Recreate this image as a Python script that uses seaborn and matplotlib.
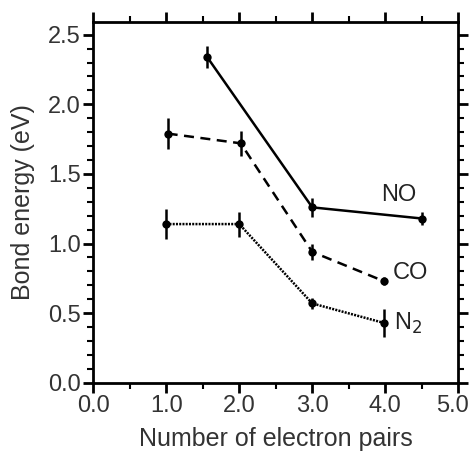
import matplotlib
matplotlib.use("Agg")
import matplotlib.pyplot as plt
import matplotlib.transforms as mtransforms
from matplotlib.ticker import MultipleLocator
import seaborn as sns
import pandas as pd

# data
no_x = [1.56, 3.0, 4.5]
no_y = [2.34, 1.26, 1.18]
no_err = [0.08, 0.07, 0.05]

co_x = [1.02, 2.02, 3.0, 3.98]
co_y = [1.79, 1.72, 0.94, 0.73]
co_err = [0.11, 0.09, 0.06, 0.03]

n2_x = [1.0, 2.0, 3.0, 3.98]
n2_y = [1.14, 1.14, 0.57, 0.43]
n2_err = [0.11, 0.09, 0.04, 0.10]

x_ticks = [0.0, 1.0, 2.0, 3.0, 4.0, 5.0]

series = [
    ("NO", no_x, no_y, no_err, "-"),
    ("CO", co_x, co_y, co_err, (0, (4, 2.6))),
    ("N$_2$", n2_x, n2_y, n2_err, (0, (0.8, 0.5))),
]

sns.set_style("ticks")
plt.rcParams["font.family"] = ["Liberation Sans", "DejaVu Sans"]

fig = plt.figure(figsize=(4.73, 4.53), dpi=100)
ax = fig.add_axes([0.197, 0.155, 0.772, 0.796])

for name, xs, ys, errs, ls in series:
    df = pd.DataFrame({"x": xs, "y": ys})
    sns.lineplot(data=df, x="x", y="y", ax=ax, color="black", linestyle=ls,
                 linewidth=1.8, marker="o", markersize=6, markeredgewidth=0)
    ax.errorbar(xs, ys, yerr=errs, fmt="none", ecolor="black", elinewidth=1.8, capsize=0)

ax.text(4.18, 1.35, "NO", fontsize=17, color="#222222", ha="center", va="center")
ax.text(4.35, 0.79, "CO", fontsize=17, color="#222222", ha="center", va="center")
ax.text(4.12, 0.43, "N$_2$", fontsize=17, color="#222222", ha="left", va="center")

ax.set_xlim(0, 5.0)
ax.set_ylim(0, 2.59)
ax.set_xticks(x_ticks)
ax.set_xticklabels([f"{t:.1f}" for t in x_ticks])
ax.xaxis.set_minor_locator(MultipleLocator(0.5))
ax.yaxis.set_major_locator(MultipleLocator(0.5))
ax.yaxis.set_minor_locator(MultipleLocator(0.1))
ax.yaxis.set_major_formatter(plt.FormatStrFormatter("%.1f"))

for s in ax.spines.values():
    s.set_linewidth(2.0)
    s.set_color("black")
ax.tick_params(which="both", direction="out", top=True, right=True,
               labeltop=False, labelright=False, color="black")
ax.tick_params(which="major", length=7, width=2.0, labelsize=17, labelcolor="#333333", pad=2)
ax.tick_params(which="minor", length=4, width=1.5)

# last x label sits on the figure edge, nudge it left a bit
last = ax.xaxis.get_major_ticks()[-1].label1
last.set_transform(last.get_transform() + mtransforms.ScaledTranslation(-6 / 100, 0, fig.dpi_scale_trans))

ax.set_xlabel("Number of electron pairs", fontsize=18, color="#333333", labelpad=7)
ax.set_ylabel("Bond energy (eV)", fontsize=18, color="#333333", labelpad=9)

fig.savefig("out.png", dpi=100)
